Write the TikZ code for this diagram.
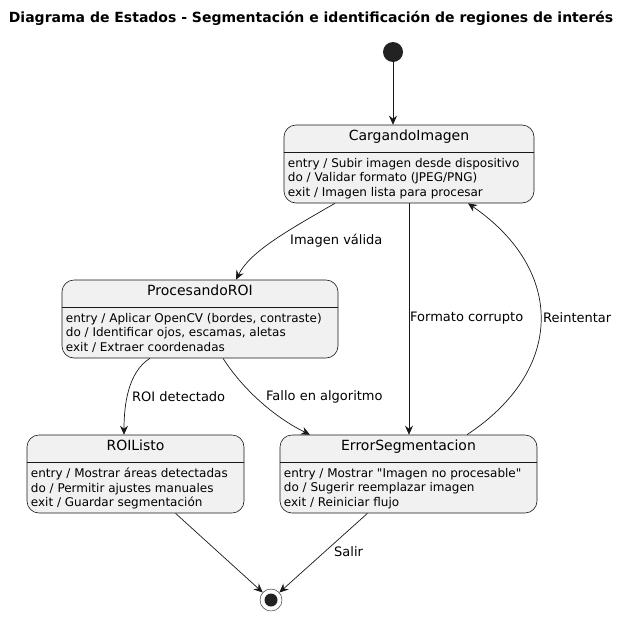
\documentclass[tikz,border=0pt]{standalone}
\usepackage{fontspec}
\setmainfont{DejaVu Sans}
\usetikzlibrary{arrows.meta}

\definecolor{stfill}{HTML}{F1F1F1}
\definecolor{stline}{HTML}{181818}
\definecolor{stdot}{HTML}{222222}

\begin{document}
\begin{tikzpicture}[x=1pt,y=-1pt,
  state/.style={draw=stline,fill=stfill,rounded corners=12pt,inner sep=0pt,line width=0.6pt},
  stname/.style={font=\fontsize{14}{16}\selectfont,anchor=north,inner sep=0pt},
  stbody/.style={font=\fontsize{12}{14.5}\selectfont,align=left,anchor=north west,inner sep=0pt},
  lbl/.style={font=\fontsize{13}{15}\selectfont,anchor=west,inner sep=0pt},
  edge/.style={draw=stline,line width=0.7pt,-{Stealth[length=9pt,width=8pt,inset=3pt]}}]
\useasboundingbox (0,0) rectangle (631,616);

\node[font=\bfseries\fontsize{14}{16}\selectfont] (title) at (311,18)
  {Diagrama de Estados - Segmentación e identificación de regiones de interés};

% start and end
\node[circle,fill=stdot,minimum size=20pt,inner sep=0pt] (ini) at (393,52) {};
\node[circle,draw=stline,fill=white,minimum size=22pt,inner sep=0pt] (fin) at (271,600) {};
\node[circle,fill=stdot,minimum size=13pt,inner sep=0pt] (finDot) at (fin) {};

% CargandoImagen
\node[state,minimum width=250pt,minimum height=78pt] (carga) at (409,164) {};
\node[stname] (cargaN) at ([yshift=-5pt]carga.north) {CargandoImagen};
\draw[stline,line width=0.5pt] ([yshift=-28pt]carga.north west) -- ([yshift=-28pt]carga.north east);
\node[stbody] (cargaB) at ([xshift=4pt,yshift=-33pt]carga.north west)
  {entry / Subir imagen desde dispositivo\\do / Validar formato (JPEG/PNG)\\exit / Imagen lista para procesar};

% ProcesandoROI
\node[state,minimum width=276pt,minimum height=78pt] (proc) at (200,319) {};
\node[stname] (procN) at ([yshift=-5pt]proc.north) {ProcesandoROI};
\draw[stline,line width=0.5pt] ([yshift=-28pt]proc.north west) -- ([yshift=-28pt]proc.north east);
\node[stbody] (procB) at ([xshift=4pt,yshift=-33pt]proc.north west)
  {entry / Aplicar OpenCV (bordes, contraste)\\do / Identificar ojos, escamas, aletas\\exit / Extraer coordenadas};

% ROIListo
\node[state,minimum width=217pt,minimum height=78pt] (roi) at (135.5,474) {};
\node[stname] (roiN) at ([yshift=-5pt]roi.north) {ROIListo};
\draw[stline,line width=0.5pt] ([yshift=-28pt]roi.north west) -- ([yshift=-28pt]roi.north east);
\node[stbody] (roiB) at ([xshift=4pt,yshift=-33pt]roi.north west)
  {entry / Mostrar áreas detectadas\\do / Permitir ajustes manuales\\exit / Guardar segmentación};

% ErrorSegmentacion
\node[state,minimum width=257pt,minimum height=78pt] (err) at (408.5,474) {};
\node[stname] (errN) at ([yshift=-5pt]err.north) {ErrorSegmentacion};
\draw[stline,line width=0.5pt] ([yshift=-28pt]err.north west) -- ([yshift=-28pt]err.north east);
\node[stbody] (errB) at ([xshift=4pt,yshift=-33pt]err.north west)
  {entry / Mostrar \textquotedbl Imagen no procesable\textquotedbl\\do / Sugerir reemplazar imagen\\exit / Reiniciar flujo};

% transitions
\draw[edge] (ini) -- (ini |- carga.north);
\draw[edge] ([xshift=-74pt]carga.south) .. controls (285,232) and (250,252) .. ([xshift=36pt]proc.north);
\node[lbl] (lValida) at (290,241) {Imagen válida};
\draw[edge] (carga.south) -- (carga.south |- err.north);
\node[lbl] (lCorrupto) at (410,318) {Formato corrupto};
\draw[edge] ([xshift=58.5pt]err.north) .. controls (565,370) and (565,270) .. ([xshift=59pt]carga.south);
\node[lbl] (lReint) at (543,318) {Reintentar};
\draw[edge] ([xshift=-50pt]proc.south) .. controls (128,372) and (124,405) .. ([xshift=-11.5pt]roi.north);
\node[lbl] (lDetect) at (132,397) {ROI detectado};
\draw[edge] ([xshift=23pt]proc.south) .. controls (240,385) and (270,415) .. ([xshift=-98.5pt]err.north);
\node[lbl] (lFallo) at (266,397) {Fallo en algoritmo};
\draw[edge] ([xshift=40pt]roi.south) -- (fin);
\draw[edge] ([xshift=-41pt]err.south) -- (fin);
\node[lbl] (lSalir) at (334,552) {Salir};
\end{tikzpicture}
\end{document}
